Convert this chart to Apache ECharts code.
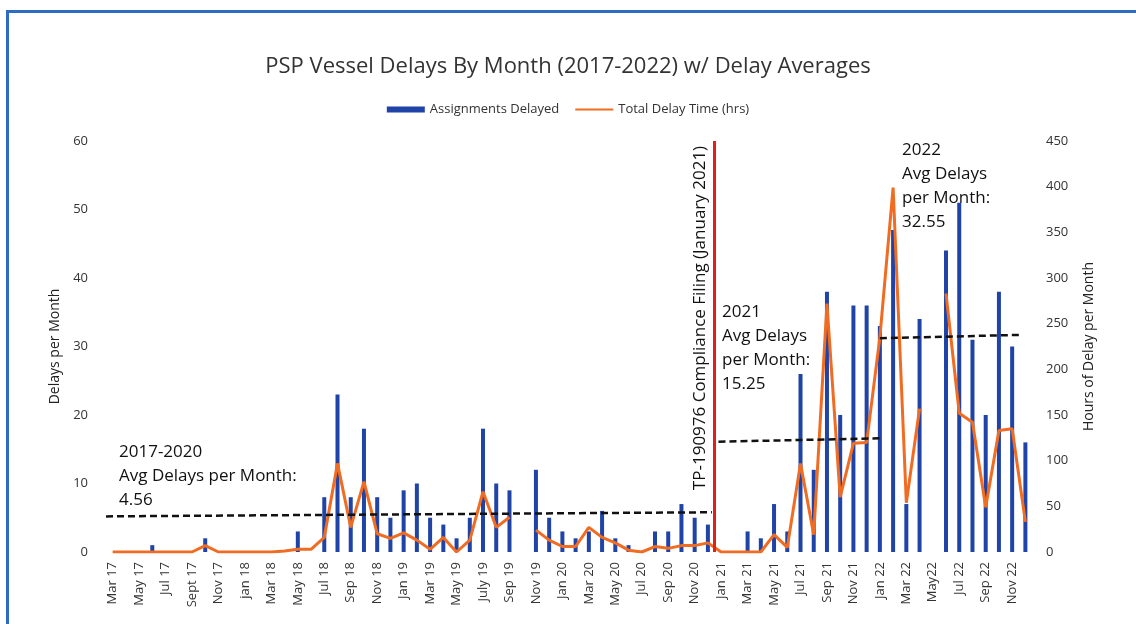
<!DOCTYPE html>
<html>
<head>
<meta charset="utf-8">
<script src="https://cdn.jsdelivr.net/npm/echarts@6/dist/echarts.min.js"></script>
<style>
body { margin: 0; background: #fff; }
.show { position: relative; width: 1136px; height: 624px; }
.frame {
  position: absolute; left: 6px; top: 10px; right: 0; bottom: 0;
  border-top: 3px solid #2e6cc2; border-left: 3px solid #2e6cc2;
  pointer-events: none;
}
</style>
</head>
<body>
<div class="show">
  <div id="chart" style="width:1136px;height:624px"></div>
  <div class="frame"></div>
</div>
<script>
const months = [
  'Mar 17','Apr 17','May 17','Jun 17','Jul 17','Aug 17','Sept 17','Oct 17','Nov 17','Dec 17',
  'jan 18','Feb 18','Mar 18','Apr 18','May 18','Jun 18','Jul 18','Aug 18','Sep 18','Oct 18','Nov 18','Dec 18',
  'Jan 19','Feb 19','Mar 19','Apr 19','May 19','Jun 19','July 19','Aug 19','Sep 19','Oct 19','Nov 19','Dec 19',
  'Jan 20','Feb 20','Mar 20','Apr 20','May 20','Jun 20','Jul 20','Aug 20','Sep 20','Oct 20','Nov 20','Dec 20',
  'Jan 21','Feb 21','Mar 21','Apr 21','May 21','Jun 21','Jul 21','Aug 21','Sep 21','Oct 21','Nov 21','Dec 21',
  'Jan 22','Feb 22','Mar 22','Apr 22','May22','Jun 22','Jul 22','Aug 22','Sep 22','Oct 22','Nov 22','Dec 22'
]

// assignments delayed (left axis)
const delayed = [
  0,0,0,1,0,0,0,2,0,0,
  0,0,0,0,3,0,8,23,8,18,8,5,
  9,10,5,4,2,5,18,10,9,null,12,5,
  3,2,3,6,2,1,0,3,3,7,5,4,
  0,0,3,2,7,3,26,12,38,20,36,36,
  33,47,7,34,null,44,51,31,20,38,30,16
]

// total delay time in hours (right axis)
const hours = [
  0,0,0,0,0,0,0,7,0,0,
  0,0,0,1,3,3,16,97,27,77,20,15,
  21,13,3,16,0,13,66,27,38,null,24,13,
  6,6,27,16,10,2,0,6,4,7,7,10,
  0,0,0,0,19,5,97,19,272,60,119,120,
  235,399,54,157,null,283,152,142,49,133,135,33
]

// dashed average lines, in month-index units: [startIndex, startValue, endIndex, endValue]
const avgLines = [
  [-0.5, 5.2, 45.3, 5.8],
  [45.8, 16.1, 58.1, 16.6],
  [58.0, 31.2, 68.6, 31.7]
]
// filing date sits between Dec 20 and Jan 21
const filingIndex = 45.5

const leftTicks = { min: 0, max: 60, interval: 10 }
const rightTicks = { min: 0, max: 450, interval: 50 }

const chartInstance = echarts.init(document.getElementById('chart'))
const font = "'Open Sans', sans-serif"
const noteFont = '17px ' + font

const option = {
  animation: false,
  textStyle: { fontFamily: font },
  title: {
    text: 'PSP Vessel Delays By Month (2017-2022) w/ Delay Averages',
    left: 'center',
    top: 51,
    textStyle: { fontFamily: font, fontSize: 22, fontWeight: 'normal', color: '#333' }
  },
  legend: {
    top: 98,
    left: 'center',
    itemWidth: 38,
    itemHeight: 6,
    itemGap: 16,
    textStyle: { fontFamily: font, fontSize: 13, color: '#333' },
    data: [
      { name: 'Assignments Delayed', icon: 'rect' },
      { name: 'Total Delay Time (hrs)', icon: 'path://M0 0L0.01 0Z M0 2H40V4H0Z M0 6L0.01 6Z' }
    ]
  },
  grid: { left: 106, right: 104, top: 141, bottom: 72 },
  xAxis: [
    {
      type: 'category',
      data: months,
      axisLine: { show: false },
      axisTick: { show: false },
      axisLabel: {
        interval: 1,
        rotate: 90,
        margin: 10,
        fontSize: 13,
        color: '#333',
        fontFamily: font
      }
    },
    {
      // hidden month-index axis used to place the annotation lines
      type: 'value',
      min: -0.5,
      max: months.length - 0.5,
      show: false,
      splitLine: { show: false }
    }
  ],
  yAxis: [
    {
      type: 'value',
      ...leftTicks,
      name: 'Delays per Month',
      nameLocation: 'middle',
      nameGap: 40,
      nameTextStyle: { fontSize: 14, color: '#222', fontFamily: font },
      splitLine: { show: false },
      axisLine: { show: false },
      axisTick: { show: false },
      axisLabel: { fontSize: 13, color: '#333', margin: 18 }
    },
    {
      type: 'value',
      ...rightTicks,
      name: 'Hours of Delay per Month',
      nameLocation: 'middle',
      nameGap: 50,
      nameRotate: 90,
      nameTextStyle: { fontSize: 14, color: '#222', fontFamily: font },
      splitLine: { show: false },
      axisLine: { show: false },
      axisTick: { show: false },
      axisLabel: { fontSize: 13, color: '#333', margin: 14 }
    }
  ],
  series: [
    {
      name: 'Assignments Delayed',
      type: 'bar',
      data: delayed,
      barWidth: 4,
      itemStyle: { color: '#1f43a6' }
    },
    {
      name: 'Total Delay Time (hrs)',
      type: 'line',
      yAxisIndex: 1,
      data: hours,
      symbol: 'none',
      connectNulls: false,
      lineStyle: { color: '#f06c22', width: 3 },
      itemStyle: { color: '#f06c22' },
      z: 3
    },
    {
      name: 'averages',
      type: 'line',
      xAxisIndex: 1,
      yAxisIndex: 0,
      data: [],
      z: 4,
      markLine: {
        silent: true,
        symbol: 'none',
        label: { show: false },
        lineStyle: { color: '#111', width: 2.5, type: [7, 4] },
        data: avgLines.map(a => [{ coord: [a[0], a[1]] }, { coord: [a[2], a[3]] }]).concat([[
          { coord: [filingIndex, 0], lineStyle: { color: '#dc221a', width: 3, type: 'solid' } },
          { coord: [filingIndex, 60] }
        ]])
      }
    }
  ],
  graphic: [
    {
      type: 'text', left: 119, top: 440,
      style: { text: '2017-2020\nAvg Delays per Month:\n4.56', font: noteFont, fill: '#111', lineHeight: 24 }
    },
    {
      type: 'text', left: 722, top: 300,
      style: { text: '2021\nAvg Delays\nper Month:\n15.25', font: noteFont, fill: '#111', lineHeight: 24 }
    },
    {
      type: 'text', left: 902, top: 138,
      style: { text: '2022\nAvg Delays\nper Month:\n32.55', font: noteFont, fill: '#111', lineHeight: 24 }
    },
    {
      type: 'text', x: 700, y: 318, rotation: Math.PI / 2,
      style: {
        text: 'TP-190976 Compliance Filing (January 2021)',
        font: noteFont, fill: '#111', align: 'center', verticalAlign: 'middle'
      }
    }
  ]
}

chartInstance.setOption(option)
</script>
</body>
</html>
